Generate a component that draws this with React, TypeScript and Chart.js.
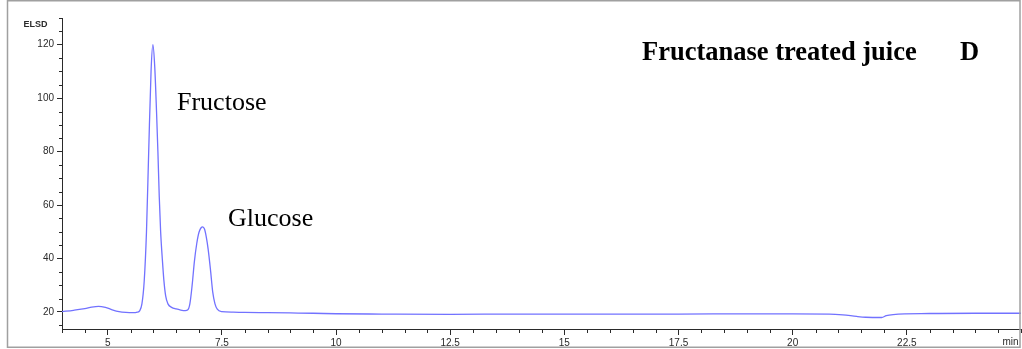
import { useEffect, useRef } from 'react';
import { Chart, registerables } from 'chart.js';

Chart.register(...registerables);

// Retention time (min) and ELSD detector response
const retentionTimes = [
  4.0, 4.25, 4.5, 4.65, 4.8, 4.95, 5.1, 5.25, 5.4, 5.55, 5.65, 5.7, 5.75, 5.8, 5.85, 5.9, 5.95, 5.99,
  6.03, 6.07, 6.1, 6.13, 6.16, 6.2, 6.23, 6.27, 6.32, 6.4, 6.5, 6.6, 6.7, 6.75, 6.8, 6.85, 6.9, 6.95,
  7.0, 7.05, 7.08, 7.12, 7.16, 7.2, 7.25, 7.3, 7.35, 7.4, 7.5, 7.75, 8.0, 8.5, 9.0, 9.5, 10.0, 11.0,
  12.5, 14.0, 15.0, 16.0, 17.5, 19.0, 20.0, 20.8, 21.1, 21.4, 21.6, 21.95, 22.05, 22.2, 23.0, 24.0, 25.0,
];
const elsdSignal = [
  20.1, 20.6, 21.2, 21.8, 22.1, 21.7, 20.8, 20.1, 19.8, 19.7, 19.9, 20.4, 23.0, 31.5, 50, 81, 110, 120,
  112, 95, 80, 63, 50, 39, 32, 26, 23.0, 21.7, 21.1, 20.7, 20.5, 20.7, 23.0, 30, 39, 45.5,
  49.8, 51.6, 51.8, 51, 48, 43.5, 36, 27.5, 23.0, 21.0, 20.1, 19.9, 19.8, 19.7, 19.6, 19.5, 19.3, 19.2,
  19.1, 19.2, 19.2, 19.2, 19.2, 19.25, 19.25, 19.2, 18.9, 18.3, 18.0, 17.9, 18.6, 19.0, 19.4, 19.5, 19.5,
];

const xMajorTicks = [5, 7.5, 10, 12.5, 15, 17.5, 20, 22.5];
const yMajorTicks = [20, 40, 60, 80, 100, 120];
const xUnitLabel = 'min';
const yAxisLabel = 'ELSD';
const titleText = 'Fructanase treated juice';
const panelLetter = 'D';
const peakLabels = ['Fructose', 'Glucose'];

const X_MIN = 4;
const X_MAX = 25;
const Y_MIN = 13.6;
const Y_MAX = 130;

const AXIS_COLOR = '#2a2a2a';
const TICK_FONT = '"Liberation Sans", Arial, sans-serif';
const SERIF = '"Liberation Serif", "Times New Roman", serif';

const decorPlugin = {
  id: 'decor',
  beforeDraw(chart: any) {
    const ctx = chart.ctx;
    ctx.save();
    ctx.fillStyle = '#ffffff';
    ctx.fillRect(0, 0, chart.width, chart.height);
    ctx.restore();
  },
  afterDraw(chart: any) {
    const ctx = chart.ctx;
    const xs = chart.scales.x;
    const ys = chart.scales.y;
    ctx.save();

    // minor tick marks
    ctx.strokeStyle = AXIS_COLOR;
    ctx.lineWidth = 1;
    ctx.beginPath();
    for (let v = X_MIN; v <= X_MAX + 1e-9; v += 0.5) {
      if (xMajorTicks.some((m) => Math.abs(m - v) < 1e-6)) continue;
      const px = Math.round(xs.getPixelForValue(v)) + 0.5;
      ctx.moveTo(px, xs.top);
      ctx.lineTo(px, xs.top + 4);
    }
    for (let v = 15; v <= Y_MAX + 1e-9; v += 5) {
      if (yMajorTicks.some((m) => Math.abs(m - v) < 1e-6)) continue;
      const py = Math.round(ys.getPixelForValue(v)) + 0.5;
      ctx.moveTo(ys.right, py);
      ctx.lineTo(ys.right - 3, py);
    }
    ctx.stroke();

    // axis unit labels
    ctx.fillStyle = AXIS_COLOR;
    ctx.font = `10px ${TICK_FONT}`;
    ctx.textAlign = 'right';
    ctx.textBaseline = 'middle';
    ctx.fillText(xUnitLabel, 1018.5, 342.5);
    ctx.font = `bold 9px ${TICK_FONT}`;
    ctx.textAlign = 'center';
    ctx.fillText(yAxisLabel, 35.5, 24.5);

    // title and peak labels
    ctx.fillStyle = '#000000';
    ctx.textAlign = 'left';
    ctx.textBaseline = 'alphabetic';
    ctx.font = `bold 26.5px ${SERIF}`;
    ctx.fillText(titleText, 642, 60);
    ctx.fillText(panelLetter, 960, 60);
    ctx.font = `26px ${SERIF}`;
    ctx.fillText(peakLabels[0], 177, 110);
    ctx.fillText(peakLabels[1], 228, 225.5);

    // outer frame
    ctx.strokeStyle = '#a0a0a0';
    ctx.lineWidth = 1.5;
    ctx.strokeRect(7.5, 0.75, 1012.5, 346.5);
    ctx.restore();
  },
};

export default function App() {
  const canvasRef = useRef<HTMLCanvasElement | null>(null);

  useEffect(() => {
    document.body.style.margin = '0';
    const canvas = canvasRef.current;
    if (!canvas) return;
    const points = retentionTimes.map((t, i) => ({ x: t, y: elsdSignal[i] }));
    const chart = new Chart(canvas, {
      type: 'line',
      data: {
        datasets: [
          {
            data: points,
            borderColor: '#7272ff',
            borderWidth: 1.3,
            pointRadius: 0,
            fill: false,
            cubicInterpolationMode: 'monotone',
          },
        ],
      },
      options: {
        animation: false,
        responsive: false,
        maintainAspectRatio: false,
        layout: { padding: { top: 18, right: 1, bottom: 0, left: 0 } },
        plugins: {
          legend: { display: false },
          tooltip: { enabled: false },
          title: { display: false },
        },
        scales: {
          x: {
            type: 'linear',
            position: 'bottom',
            min: X_MIN,
            max: X_MAX,
            afterBuildTicks: (scale: any) => {
              scale.ticks = xMajorTicks.map((v) => ({ value: v }));
            },
            afterFit: (scale: any) => {
              scale.height = 20;
            },
            ticks: {
              autoSkip: false,
              maxRotation: 0,
              minRotation: 0,
              padding: 2,
              color: AXIS_COLOR,
              font: { family: TICK_FONT, size: 10 },
              callback: (v: any) => String(v),
            },
            grid: {
              display: true,
              drawOnChartArea: false,
              drawTicks: true,
              tickLength: 6,
              tickColor: AXIS_COLOR,
            },
            border: { display: true, color: AXIS_COLOR, width: 1 },
          },
          y: {
            type: 'linear',
            min: Y_MIN,
            max: Y_MAX,
            afterBuildTicks: (scale: any) => {
              scale.ticks = yMajorTicks.map((v) => ({ value: v }));
            },
            afterFit: (scale: any) => {
              scale.width = 62;
            },
            ticks: {
              autoSkip: false,
              padding: 3,
              color: AXIS_COLOR,
              font: { family: TICK_FONT, size: 10 },
              callback: (v: any) => String(v),
            },
            grid: {
              display: true,
              drawOnChartArea: false,
              drawTicks: true,
              tickLength: 5,
              tickColor: AXIS_COLOR,
            },
            border: { display: true, color: AXIS_COLOR, width: 1 },
          },
        },
      } as any,
      plugins: [decorPlugin],
    });
    return () => chart.destroy();
  }, []);

  return (
    <canvas
      ref={canvasRef}
      width={1022}
      height={349}
      style={{ display: 'block', width: '1022px', height: '349px' }}
    />
  );
}
